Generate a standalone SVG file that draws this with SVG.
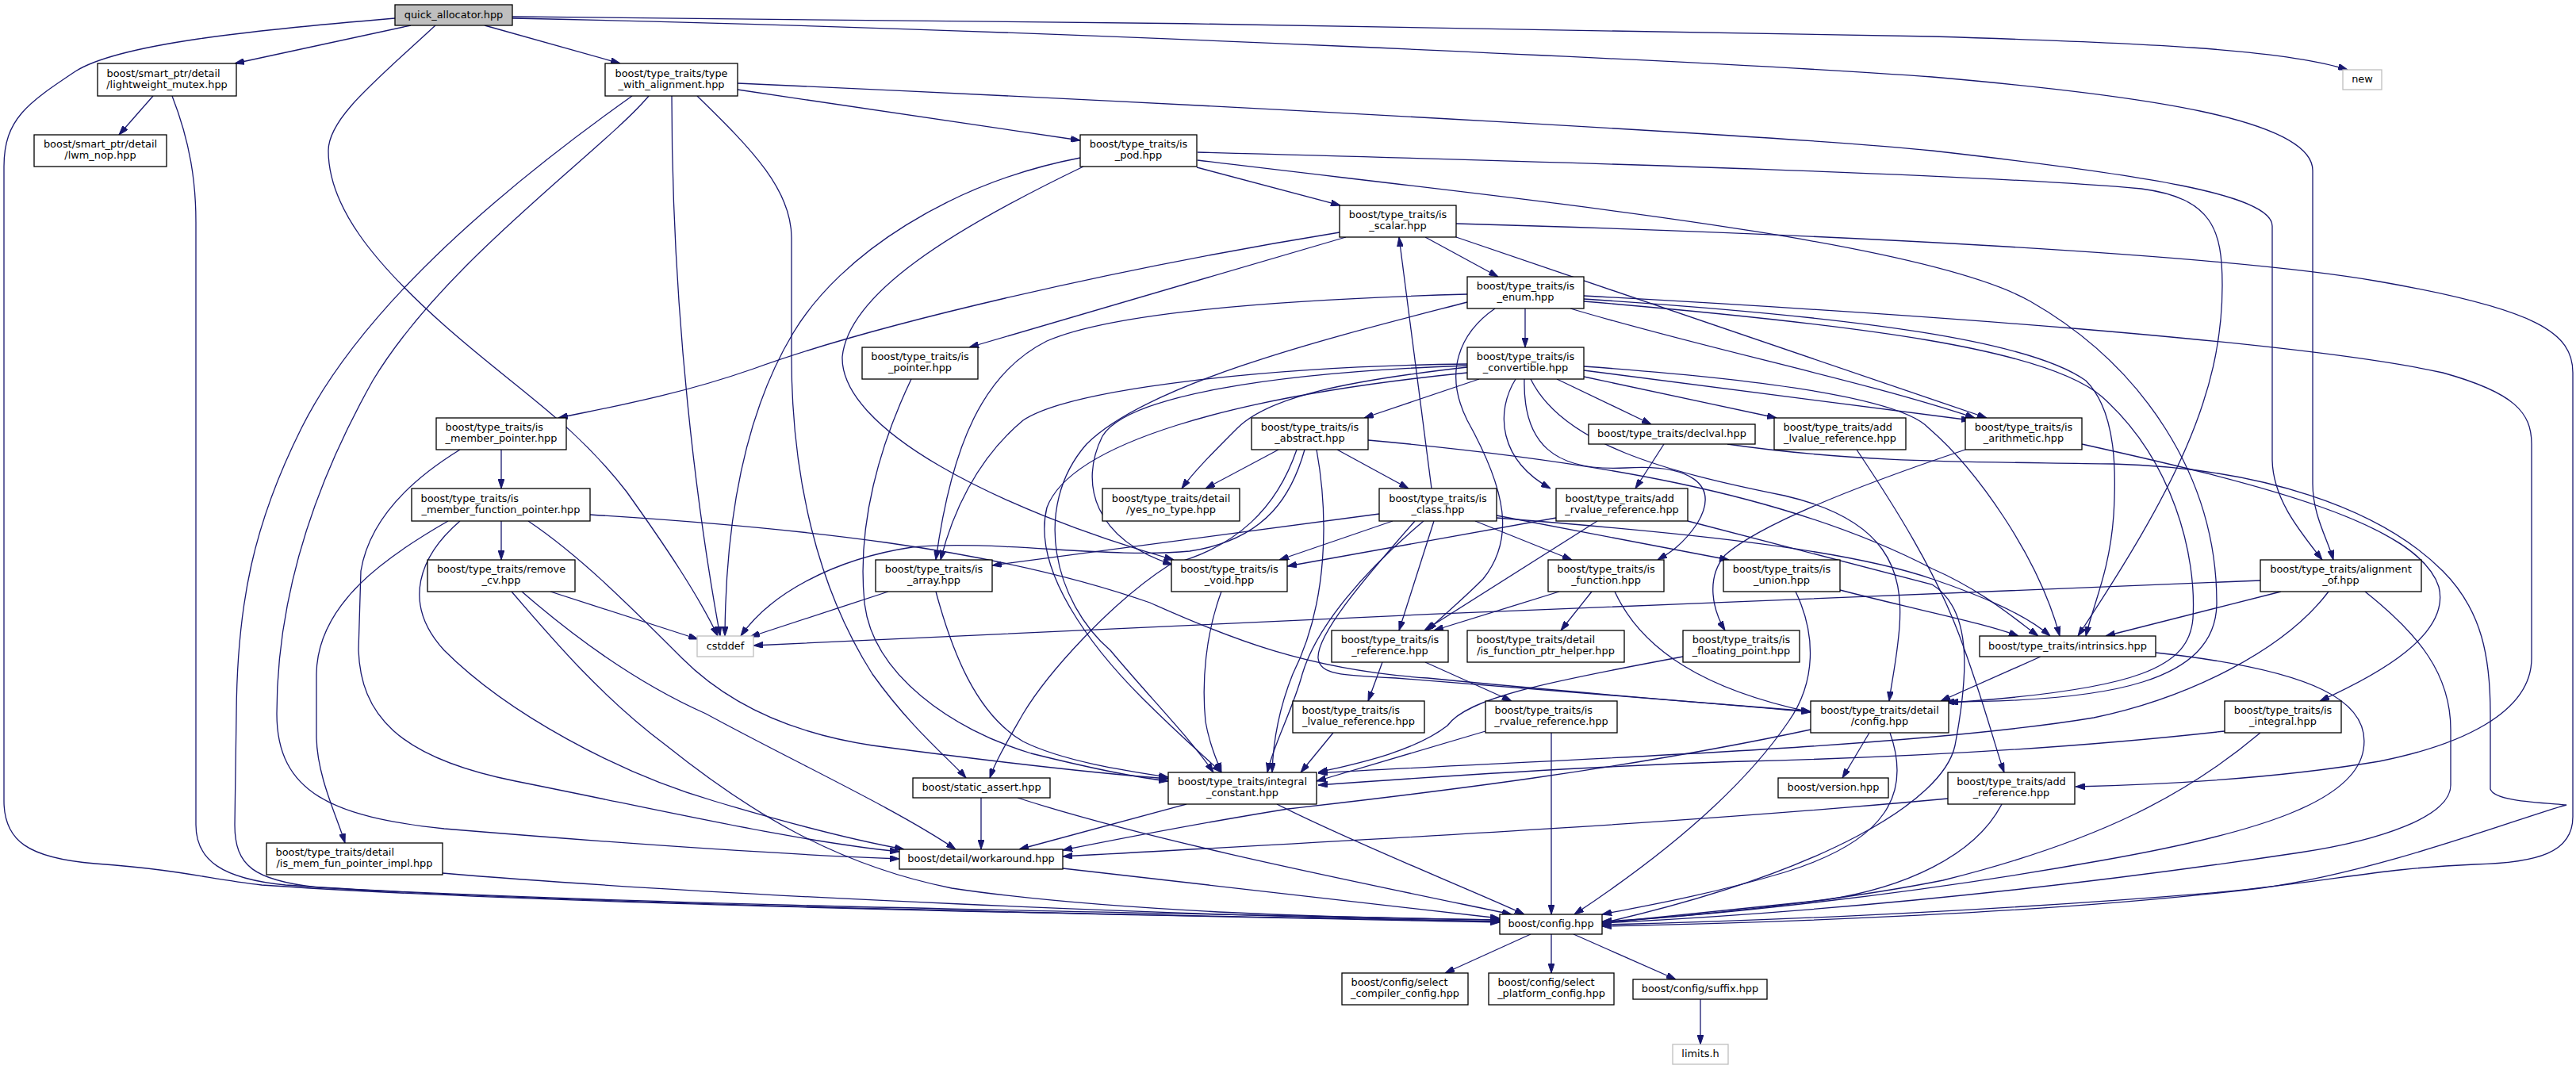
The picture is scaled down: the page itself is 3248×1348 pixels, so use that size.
<svg xmlns="http://www.w3.org/2000/svg" width="3248" height="1348" viewBox="0 0 3248 1348">
<defs>
<marker id="ah" viewBox="0 0 12 8" refX="12" refY="4" markerWidth="12" markerHeight="8" markerUnits="userSpaceOnUse" orient="auto">
<path d="M0,0 L12,4 L0,8 z" fill="#191970" stroke="#191970" stroke-width="1"/>
</marker>
</defs>
<style>
.n rect{fill:#fff;stroke:#000;stroke-width:1.3}
.r rect{fill:#bfbfbf}
.x rect{stroke:#bfbfbf}
text{font-family:"DejaVu Sans",sans-serif;font-size:12.9px;fill:#000}
.m{text-anchor:middle}
#edges path{fill:none;stroke:#191970;stroke-width:1.3;marker-end:url(#ah)}
</style>
<rect x="0" y="0" width="3248" height="1348" fill="#fff"/>
<g id="edges">
<path d="M498,23 C320,38 150,55 95,90 C35,130 5,150 5,210 L5,1010 C5,1060 35,1082 120,1089 C230,1097 260,1108 330,1116 C700,1142 1500,1155 1891,1163"/>
<path d="M518,32 L296,80"/>
<path d="M549,32 C470,105 414,150 414,190 C414,260 470,330 560,410 C650,490 720,530 790,620 C840,690 880,750 905,802"/>
<path d="M611,32 L782,80"/>
<path d="M646,21 C1200,24 1900,35 2436,46 C2700,54 2880,62 2960,88"/>
<path d="M646,23 C1300,36 2200,80 2436,97 C2700,120 2916,150 2916,215 L2916,610 C2916,650 2935,680 2942,706"/>
<path d="M193,121 L150,170"/>
<path d="M217,121 C240,180 247,230 247,280 L247,1040 C247,1085 280,1108 360,1116 C700,1140 1500,1152 1891,1160"/>
<path d="M797,121 C700,190 470,360 380,540 C320,660 299,760 298,900 L296,1040 C296,1092 320,1110 400,1119 C800,1143 1500,1155 1891,1162"/>
<path d="M818,121 C760,190 560,330 470,480 C380,640 349,780 349,900 C349,1000 420,1030 560,1045 C800,1065 1000,1078 1134,1083"/>
<path d="M847,121 C847,400 880,650 908,802"/>
<path d="M879,121 C950,190 998,240 998,300 L998,450 C998,600 1030,740 1100,850 C1150,920 1200,960 1218,981"/>
<path d="M930,113 L1362,177"/>
<path d="M930,105 C1600,135 2300,175 2436,190 C2700,220 2865,245 2865,285 L2865,580 C2866,630 2900,670 2928,706"/>
<path d="M1362,199 C1200,230 1060,320 1000,420 C940,520 915,650 914,802"/>
<path d="M1366,210 C1200,290 1070,370 1062,450 C1060,540 1250,640 1480,706"/>
<path d="M1509,211 L1690,259"/>
<path d="M1510,192 C2000,205 2500,220 2700,238 C2790,250 2802,290 2802,360 C2802,500 2740,620 2620,802"/>
<path d="M1510,202 C1900,250 2420,300 2560,380 C2700,460 2795,600 2795,760 C2795,860 2660,885 2452,885"/>
<path d="M1689,293 C1400,340 1100,410 950,465 C850,500 760,515 704,527"/>
<path d="M1697,299 L1222,438"/>
<path d="M1797,299 L1889,349"/>
<path d="M1836,299 L2505,527"/>
<path d="M1836,282 C2300,295 2800,320 3000,355 C3200,390 3244,420 3244,470 L3244,1030 C3244,1075 3200,1088 3120,1090 C3000,1095 2950,1110 2800,1125 C2500,1150 2200,1162 2020,1166"/>
<path d="M1923,389 L1923,438"/>
<path d="M1850,371 C1600,378 1400,395 1320,430 C1240,470 1200,560 1180,706"/>
<path d="M1850,381 C1700,420 1450,480 1370,560 C1300,640 1330,760 1400,820 C1450,880 1500,930 1530,974"/>
<path d="M1885,389 C1840,420 1820,470 1850,530 C1900,620 1910,680 1870,730 C1840,760 1815,780 1800,795"/>
<path d="M1980,389 C2150,440 2350,480 2490,527"/>
<path d="M1997,377 C2350,400 2560,430 2630,480 C2670,520 2668,600 2665,650 C2660,720 2640,760 2630,802"/>
<path d="M1997,380 C2350,410 2580,440 2650,500 C2740,580 2770,700 2765,780 C2760,840 2700,870 2457,886"/>
<path d="M1997,373 C2400,395 2900,430 3080,470 C3170,495 3192,520 3192,560 L3192,830 C3192,900 3100,940 3000,960 C2850,985 2700,990 2617,992"/>
<path d="M1865,478 L1720,527"/>
<path d="M1911,478 C1885,520 1890,580 1955,616"/>
<path d="M1922,478 C1920,560 1960,595 2050,590 C2130,585 2170,610 2140,660 C2120,690 2100,700 2090,706"/>
<path d="M1930,478 C1970,560 2100,595 2250,625 C2380,655 2400,720 2395,790 C2392,830 2385,860 2382,884"/>
<path d="M1963,478 L2082,535"/>
<path d="M1997,475 L2240,527"/>
<path d="M1997,467 L2485,530"/>
<path d="M1997,462 C2250,480 2400,505 2432,540 C2490,590 2570,700 2597,802"/>
<path d="M1850,463 C1700,480 1600,500 1560,540 C1530,570 1505,595 1490,616"/>
<path d="M1850,459 C1600,462 1350,490 1290,530 C1230,580 1200,650 1186,706"/>
<path d="M1850,461 C1600,470 1420,500 1390,550 C1360,610 1380,680 1478,712"/>
<path d="M1850,470 C1550,500 1350,560 1320,640 C1300,720 1380,820 1440,880 C1490,930 1520,955 1540,974"/>
<path d="M1686,567 L1776,616"/>
<path d="M1612,567 L1520,616"/>
<path d="M1645,567 C1630,620 1600,680 1500,695 C1400,705 1250,680 1150,690 C1050,705 970,750 934,802"/>
<path d="M1635,567 C1610,640 1560,690 1475,712 C1400,760 1320,850 1290,900 C1270,935 1255,960 1248,981"/>
<path d="M1660,567 C1675,650 1675,760 1630,850 C1610,900 1605,940 1604,974"/>
<path d="M1725,555 C2000,580 2250,620 2436,717 C2500,745 2540,780 2570,802"/>
<path d="M1805,616 L1764,299"/>
<path d="M1739,648 L1251,713"/>
<path d="M1756,657 L1613,706"/>
<path d="M1808,657 L1764,795"/>
<path d="M1860,657 L1982,706"/>
<path d="M1887,650 L2180,706"/>
<path d="M1887,653 C2100,670 2320,690 2436,730 C2510,755 2560,780 2585,802"/>
<path d="M1784,657 C1720,730 1660,800 1662,830 C1664,850 1690,852 1760,855 L2283,897"/>
<path d="M1795,657 C1720,720 1660,790 1642,850 C1630,895 1605,940 1598,974"/>
<path d="M1540,746 C1520,800 1515,860 1520,910 C1525,940 1535,960 1540,974"/>
<path d="M1120,746 L946,803"/>
<path d="M1180,746 C1200,820 1230,900 1290,935 C1340,960 1420,972 1473,980"/>
<path d="M1149,478 C1110,560 1080,660 1090,760 C1100,850 1200,920 1300,950 C1380,970 1430,980 1473,985"/>
<path d="M632,657 L632,706"/>
<path d="M565,657 C490,700 400,760 399,850 L399,930 C400,980 425,1030 435,1063"/>
<path d="M580,657 C530,700 505,760 560,820 C640,900 780,975 900,1010 C1000,1040 1080,1060 1140,1071"/>
<path d="M666,657 C730,700 790,760 860,830 C920,890 1000,925 1100,940 C1250,960 1380,975 1473,982"/>
<path d="M744,649 C1000,665 1250,690 1450,760 C1550,805 1650,845 1800,855 C2000,875 2200,890 2283,898"/>
<path d="M632,567 L632,616"/>
<path d="M580,567 C510,610 465,660 455,720 L452,820 C455,900 500,955 650,985 C850,1025 1000,1060 1134,1074"/>
<path d="M694,746 L880,806"/>
<path d="M658,746 C720,800 800,860 890,900 C1000,960 1130,1020 1205,1071"/>
<path d="M645,746 C700,810 760,880 840,940 C940,1020 1050,1090 1200,1120 C1400,1150 1700,1158 1891,1160"/>
<path d="M558,1101 C900,1130 1500,1155 1891,1162"/>
<path d="M2098,560 L2062,616"/>
<path d="M2178,560 C2350,585 2500,582 2664,585 C2850,590 3000,640 3080,720 C3130,770 3140,830 3140,900 L3140,995 C3145,1010 3200,1012 3236,1015 C3180,1030 3000,1100 2850,1120 C2600,1150 2300,1162 2020,1168"/>
<path d="M2341,567 C2390,640 2440,720 2470,800 C2500,880 2515,940 2527,974"/>
<path d="M2014,657 L1796,795"/>
<path d="M1962,653 L1623,714"/>
<path d="M2128,657 L2436,737 C2490,770 2480,860 2465,940 C2450,1010 2300,1100 2020,1164"/>
<path d="M2007,746 L1968,795"/>
<path d="M1966,746 L1808,795"/>
<path d="M2036,746 C2070,820 2150,870 2283,898"/>
<path d="M2320,744 C2420,770 2500,785 2545,802"/>
<path d="M2264,746 C2290,800 2290,860 2255,910 C2180,1020 2050,1110 1985,1153"/>
<path d="M2122,828 C1950,860 1850,880 1825,915 C1780,950 1700,965 1662,974"/>
<path d="M1743,835 L1725,884"/>
<path d="M1797,835 L1906,884"/>
<path d="M1681,924 L1640,974"/>
<path d="M1873,922 L1660,985"/>
<path d="M1956,924 L1956,1153"/>
<path d="M2357,924 L2323,981"/>
<path d="M2383,924 C2410,1000 2380,1060 2250,1100 C2150,1130 2060,1145 2020,1153"/>
<path d="M2283,920 C2050,970 1800,1000 1624,1020 C1500,1040 1400,1060 1340,1072"/>
<path d="M2573,828 L2447,884"/>
<path d="M2718,823 C2920,845 2990,885 2980,945 C2970,1010 2850,1050 2650,1085 C2400,1130 2150,1155 2020,1162"/>
<path d="M2850,732 C2400,750 1500,785 950,814"/>
<path d="M2876,746 L2655,802"/>
<path d="M2936,746 C2880,820 2760,880 2640,905 C2400,945 1900,960 1662,975"/>
<path d="M2982,746 C3050,800 3090,850 3090,920 L3090,990 C3090,1030 3000,1060 2900,1075 C2600,1120 2300,1150 2020,1164"/>
<path d="M2805,922 C2600,945 2400,955 2200,960 C2000,966 1800,980 1662,990"/>
<path d="M2850,924 C2760,1000 2650,1060 2450,1110 C2300,1140 2100,1158 2020,1163"/>
<path d="M2625,560 C2850,610 3050,660 3075,740 C3090,800 3000,850 2925,884"/>
<path d="M2478,567 C2350,610 2220,660 2175,700 C2150,730 2160,770 2175,795"/>
<path d="M2456,1007 C2100,1040 1700,1060 1340,1080"/>
<path d="M2524,1014 C2490,1080 2400,1120 2300,1135 C2150,1150 2060,1160 2020,1164"/>
<path d="M1496,1014 L1285,1071"/>
<path d="M1610,1014 C1700,1060 1850,1120 1922,1153"/>
<path d="M1237,1006 L1237,1071"/>
<path d="M1283,1006 C1450,1060 1700,1110 1906,1153"/>
<path d="M1340,1095 L1891,1158"/>
<path d="M1930,1178 L1822,1227"/>
<path d="M1956,1178 L1956,1227"/>
<path d="M1984,1178 L2113,1235"/>
<path d="M2144,1260 L2144,1317"/>
</g>
<g id="n1" class="n r"><rect x="498" y="6" width="148" height="26"/><text x="572" y="22.5" class="m">quick_allocator.hpp</text></g>
<g id="n2" class="n"><rect x="123" y="80" width="175" height="41"/><text x="134.5" y="96.5">boost/smart_ptr/detail</text><text x="210.5" y="110.8" class="m">/lightweight_mutex.hpp</text></g>
<g id="n3" class="n"><rect x="43" y="170" width="167" height="40"/><text x="126.5" y="186" class="m">boost/smart_ptr/detail</text><text x="126.5" y="200.3" class="m">/lwm_nop.hpp</text></g>
<g id="n4" class="n"><rect x="763" y="80" width="167" height="41"/><text x="846.5" y="96.5" class="m">boost/type_traits/type</text><text x="846.5" y="110.8" class="m">_with_alignment.hpp</text></g>
<g id="n5" class="n x"><rect x="2954" y="88" width="49" height="25"/><text x="2978.5" y="104" class="m">new</text></g>
<g id="n6" class="n"><rect x="1362" y="170" width="147" height="40"/><text x="1435.5" y="186" class="m">boost/type_traits/is</text><text x="1435.5" y="200.3" class="m">_pod.hpp</text></g>
<g id="n7" class="n"><rect x="1689" y="259" width="147" height="40"/><text x="1762.5" y="275" class="m">boost/type_traits/is</text><text x="1762.5" y="289.3" class="m">_scalar.hpp</text></g>
<g id="n8" class="n"><rect x="1850" y="349" width="147" height="40"/><text x="1923.5" y="365" class="m">boost/type_traits/is</text><text x="1923.5" y="379.3" class="m">_enum.hpp</text></g>
<g id="n9" class="n"><rect x="1850" y="438" width="147" height="40"/><text x="1923.5" y="454" class="m">boost/type_traits/is</text><text x="1923.5" y="468.3" class="m">_convertible.hpp</text></g>
<g id="n10" class="n"><rect x="1087" y="438" width="146" height="40"/><text x="1160" y="454" class="m">boost/type_traits/is</text><text x="1160" y="468.3" class="m">_pointer.hpp</text></g>
<g id="n11" class="n"><rect x="550" y="527" width="164" height="40"/><text x="561.5" y="543">boost/type_traits/is</text><text x="632" y="557.3" class="m">_member_pointer.hpp</text></g>
<g id="n12" class="n"><rect x="519" y="616" width="225" height="41"/><text x="530.5" y="632.5">boost/type_traits/is</text><text x="631.5" y="646.8" class="m">_member_function_pointer.hpp</text></g>
<g id="n13" class="n"><rect x="539" y="706" width="186" height="40"/><text x="632" y="722" class="m">boost/type_traits/remove</text><text x="632" y="736.3" class="m">_cv.hpp</text></g>
<g id="n14" class="n"><rect x="1578" y="527" width="147" height="40"/><text x="1651.5" y="543" class="m">boost/type_traits/is</text><text x="1651.5" y="557.3" class="m">_abstract.hpp</text></g>
<g id="n15" class="n"><rect x="1390" y="616" width="173" height="41"/><text x="1476.5" y="632.5" class="m">boost/type_traits/detail</text><text x="1476.5" y="646.8" class="m">/yes_no_type.hpp</text></g>
<g id="n16" class="n"><rect x="1104" y="706" width="147" height="40"/><text x="1177.5" y="722" class="m">boost/type_traits/is</text><text x="1177.5" y="736.3" class="m">_array.hpp</text></g>
<g id="n17" class="n"><rect x="1477" y="706" width="146" height="40"/><text x="1550" y="722" class="m">boost/type_traits/is</text><text x="1550" y="736.3" class="m">_void.hpp</text></g>
<g id="n18" class="n x"><rect x="879" y="802" width="71" height="26"/><text x="914.5" y="818.5" class="m">cstddef</text></g>
<g id="n19" class="n"><rect x="1739" y="616" width="148" height="41"/><text x="1813" y="632.5" class="m">boost/type_traits/is</text><text x="1813" y="646.8" class="m">_class.hpp</text></g>
<g id="n20" class="n"><rect x="2003" y="535" width="210" height="25"/><text x="2108" y="551" class="m">boost/type_traits/declval.hpp</text></g>
<g id="n21" class="n"><rect x="2237" y="527" width="166" height="40"/><text x="2248.5" y="543">boost/type_traits/add</text><text x="2320" y="557.3" class="m">_lvalue_reference.hpp</text></g>
<g id="n22" class="n"><rect x="1962" y="616" width="166" height="41"/><text x="1973.5" y="632.5">boost/type_traits/add</text><text x="2045" y="646.8" class="m">_rvalue_reference.hpp</text></g>
<g id="n23" class="n"><rect x="1952" y="706" width="146" height="40"/><text x="2025" y="722" class="m">boost/type_traits/is</text><text x="2025" y="736.3" class="m">_function.hpp</text></g>
<g id="n24" class="n"><rect x="2173" y="706" width="147" height="40"/><text x="2246.5" y="722" class="m">boost/type_traits/is</text><text x="2246.5" y="736.3" class="m">_union.hpp</text></g>
<g id="n25" class="n"><rect x="1679" y="795" width="147" height="40"/><text x="1752.5" y="811" class="m">boost/type_traits/is</text><text x="1752.5" y="825.3" class="m">_reference.hpp</text></g>
<g id="n26" class="n"><rect x="1850" y="795" width="198" height="40"/><text x="1861.5" y="811">boost/type_traits/detail</text><text x="1949" y="825.3" class="m">/is_function_ptr_helper.hpp</text></g>
<g id="n27" class="n"><rect x="2122" y="795" width="147" height="40"/><text x="2195.5" y="811" class="m">boost/type_traits/is</text><text x="2195.5" y="825.3" class="m">_floating_point.hpp</text></g>
<g id="n28" class="n"><rect x="1630" y="884" width="166" height="40"/><text x="1641.5" y="900">boost/type_traits/is</text><text x="1713" y="914.3" class="m">_lvalue_reference.hpp</text></g>
<g id="n29" class="n"><rect x="1873" y="884" width="166" height="40"/><text x="1884.5" y="900">boost/type_traits/is</text><text x="1956" y="914.3" class="m">_rvalue_reference.hpp</text></g>
<g id="n30" class="n"><rect x="2283" y="884" width="174" height="40"/><text x="2370" y="900" class="m">boost/type_traits/detail</text><text x="2370" y="914.3" class="m">/config.hpp</text></g>
<g id="n31" class="n"><rect x="2478" y="527" width="147" height="40"/><text x="2551.5" y="543" class="m">boost/type_traits/is</text><text x="2551.5" y="557.3" class="m">_arithmetic.hpp</text></g>
<g id="n32" class="n"><rect x="2850" y="706" width="203" height="40"/><text x="2951.5" y="722" class="m">boost/type_traits/alignment</text><text x="2951.5" y="736.3" class="m">_of.hpp</text></g>
<g id="n33" class="n"><rect x="2496" y="802" width="222" height="26"/><text x="2607" y="818.5" class="m">boost/type_traits/intrinsics.hpp</text></g>
<g id="n34" class="n"><rect x="2805" y="884" width="147" height="40"/><text x="2878.5" y="900" class="m">boost/type_traits/is</text><text x="2878.5" y="914.3" class="m">_integral.hpp</text></g>
<g id="n35" class="n"><rect x="2456" y="974" width="160" height="40"/><text x="2536" y="990" class="m">boost/type_traits/add</text><text x="2536" y="1004.3" class="m">_reference.hpp</text></g>
<g id="n36" class="n"><rect x="1473" y="974" width="187" height="40"/><text x="1566.5" y="990" class="m">boost/type_traits/integral</text><text x="1566.5" y="1004.3" class="m">_constant.hpp</text></g>
<g id="n37" class="n"><rect x="1151" y="981" width="173" height="25"/><text x="1237.5" y="997" class="m">boost/static_assert.hpp</text></g>
<g id="n38" class="n"><rect x="1134" y="1071" width="206" height="25"/><text x="1237" y="1087" class="m">boost/detail/workaround.hpp</text></g>
<g id="n39" class="n"><rect x="336" y="1063" width="222" height="40"/><text x="347.5" y="1079">boost/type_traits/detail</text><text x="447" y="1093.3" class="m">/is_mem_fun_pointer_impl.hpp</text></g>
<g id="n40" class="n"><rect x="1891" y="1153" width="129" height="25"/><text x="1955.5" y="1169" class="m">boost/config.hpp</text></g>
<g id="n41" class="n"><rect x="1692" y="1227" width="159" height="40"/><text x="1703.5" y="1243">boost/config/select</text><text x="1771.5" y="1257.3" class="m">_compiler_config.hpp</text></g>
<g id="n42" class="n"><rect x="1877" y="1227" width="158" height="40"/><text x="1888.5" y="1243">boost/config/select</text><text x="1956" y="1257.3" class="m">_platform_config.hpp</text></g>
<g id="n43" class="n"><rect x="2059" y="1235" width="169" height="25"/><text x="2143.5" y="1251" class="m">boost/config/suffix.hpp</text></g>
<g id="n44" class="n x"><rect x="2109" y="1317" width="70" height="25"/><text x="2144" y="1333" class="m">limits.h</text></g>
<g id="n45" class="n"><rect x="2242" y="981" width="139" height="25"/><text x="2311.5" y="997" class="m">boost/version.hpp</text></g>
</svg>
